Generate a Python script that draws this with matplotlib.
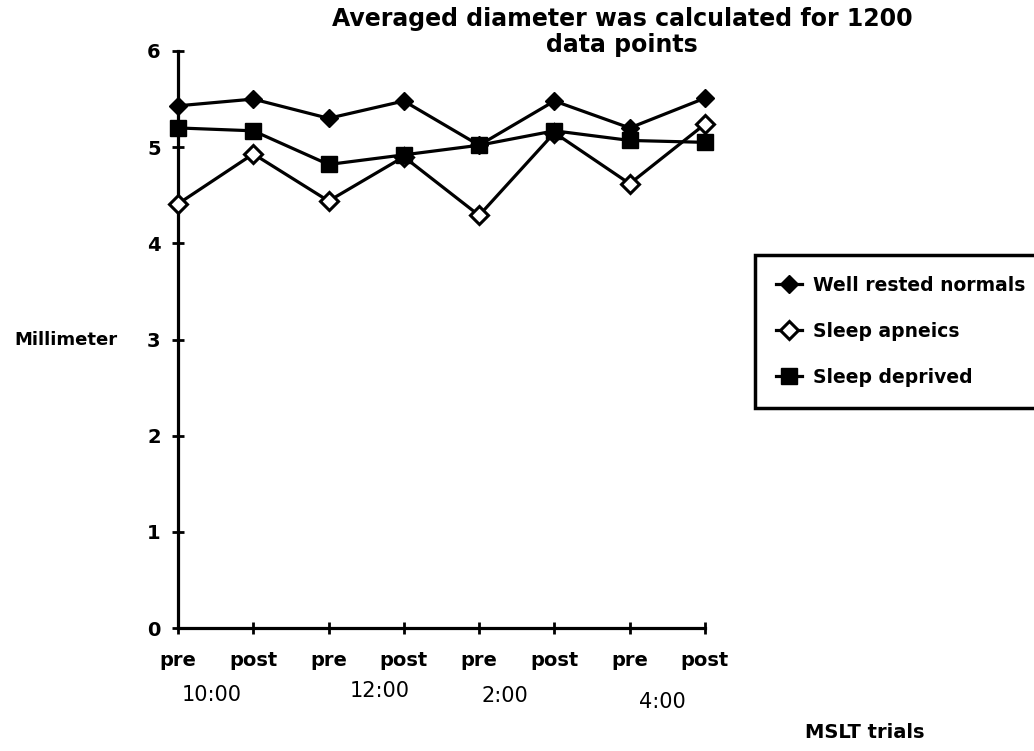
import matplotlib
matplotlib.use("Agg")
import matplotlib.pyplot as plt

trials = ["pre", "post", "pre", "post", "pre", "post", "pre", "post"]
times = ["10:00", "12:00", "2:00", "4:00"]

well_rested = [5.43, 5.50, 5.30, 5.48, 5.02, 5.48, 5.20, 5.51]
apneics = [4.41, 4.93, 4.44, 4.90, 4.29, 5.15, 4.62, 5.24]
deprived = [5.20, 5.17, 4.82, 4.92, 5.02, 5.17, 5.07, 5.05]

W, H = 1034, 751
fig = plt.figure(figsize=(W / 100, H / 100), dpi=100)
ax = fig.add_axes([178 / W, 1 - 628 / H, (705 - 178) / W, (628 - 51) / H])

x = list(range(len(trials)))
lw = 2.3
ax.plot(x, well_rested, color="black", lw=lw, marker="D", ms=9,
        mfc="black", mec="black", label="Well rested normals", clip_on=False, zorder=3)
ax.plot(x, apneics, color="black", lw=lw, marker="D", ms=9, mfc="white",
        mec="black", mew=2.2, label="Sleep apneics", clip_on=False, zorder=3)
ax.plot(x, deprived, color="black", lw=lw, marker="s", ms=12,
        mfc="black", mec="black", label="Sleep deprived", clip_on=False, zorder=4)

ax.set_xlim(0, len(trials) - 1)
ax.set_ylim(0, 6)
ax.set_yticks(range(7))
ax.set_xticks(x)
ax.set_xticklabels(trials)
for s in ["top", "right"]:
    ax.spines[s].set_visible(False)
for s in ["left", "bottom"]:
    ax.spines[s].set_linewidth(2.3)
ax.tick_params(axis="both", direction="inout", length=9, width=2,
               labelsize=14)
ax.tick_params(axis="x", pad=12)
ax.tick_params(axis="y", pad=8)
for lab in ax.get_xticklabels() + ax.get_yticklabels():
    lab.set_fontweight("bold")

# time-of-day labels under the trial pairs
time_pos = [(212, 695), (380, 691), (505, 696), (662, 702)]
for t, (px, py) in zip(times, time_pos):
    fig.text(px / W, 1 - py / H, t, ha="center", va="center", fontsize=15)

fig.text(66 / W, 1 - 340 / H, "Millimeter", ha="center", va="center",
         fontsize=13, fontweight="bold")
fig.text(865 / W, 1 - 733 / H, "MSLT trials", ha="center", va="center",
         fontsize=14, fontweight="bold")
fig.text(622 / W, 1 - 19 / H, "Averaged diameter was calculated for 1200",
         ha="center", va="center", fontsize=17, fontweight="bold")
fig.text(622 / W, 1 - 45 / H, "data points", ha="center", va="center",
         fontsize=17, fontweight="bold")

leg = ax.legend(loc="upper left", bbox_to_anchor=(755 / W, 1 - 255 / H),
                bbox_transform=fig.transFigure, frameon=True, fancybox=False,
                edgecolor="black", handlelength=1.4, handletextpad=0.6,
                labelspacing=1.45, borderpad=1.1, borderaxespad=0,
                prop={"weight": "bold", "size": 13.5})
leg.get_frame().set_linewidth(2.5)
leg.get_frame().set_alpha(1)

fig.savefig("out.png", dpi=100)
